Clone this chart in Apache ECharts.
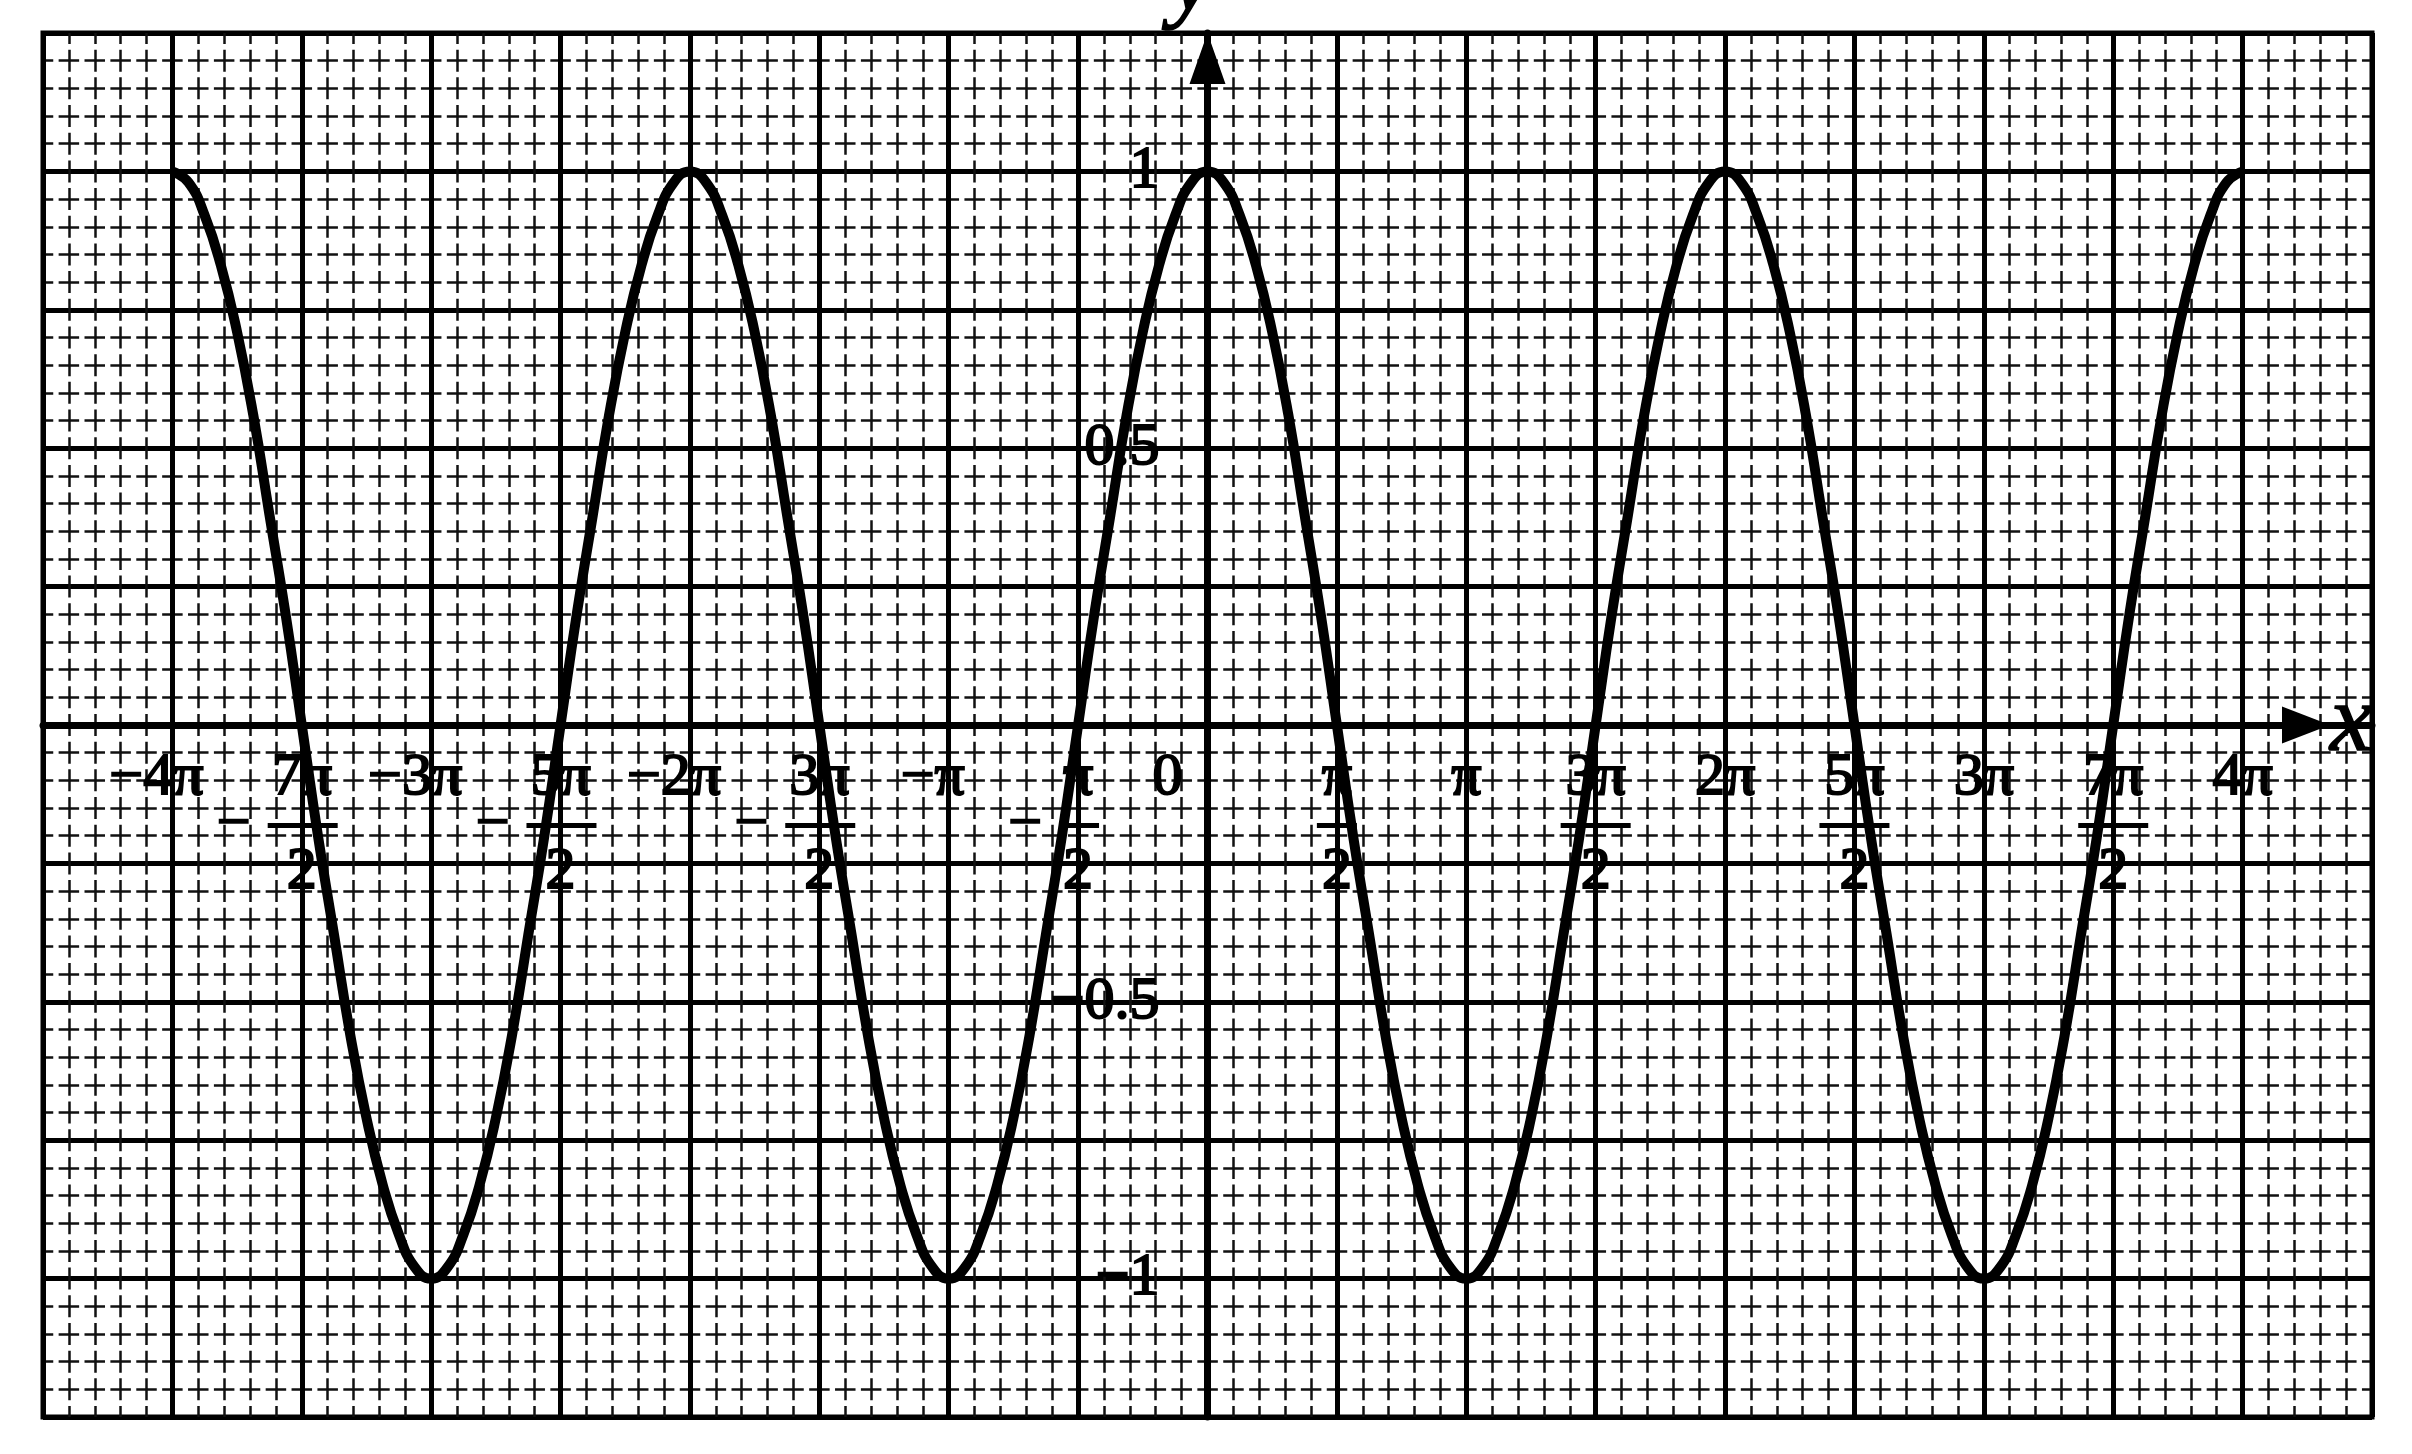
<!DOCTYPE html>
<html>
<head>
<meta charset="utf-8">
<script src="https://cdn.jsdelivr.net/npm/echarts/dist/echarts.min.js"></script>
<style>
html,body{margin:0;padding:0;background:#fff;}
#c{width:2412px;height:1454px;}
</style>
</head>
<body>
<div id="c"></div>
<script>
// x in units of π, read at every π/16
const xValues = [
  -4, -3.9375, -3.875, -3.8125, -3.75, -3.6875, -3.625, -3.5625,
  -3.5, -3.4375, -3.375, -3.3125, -3.25, -3.1875, -3.125, -3.0625,
  -3, -2.9375, -2.875, -2.8125, -2.75, -2.6875, -2.625, -2.5625,
  -2.5, -2.4375, -2.375, -2.3125, -2.25, -2.1875, -2.125, -2.0625,
  -2, -1.9375, -1.875, -1.8125, -1.75, -1.6875, -1.625, -1.5625,
  -1.5, -1.4375, -1.375, -1.3125, -1.25, -1.1875, -1.125, -1.0625,
  -1, -0.9375, -0.875, -0.8125, -0.75, -0.6875, -0.625, -0.5625,
  -0.5, -0.4375, -0.375, -0.3125, -0.25, -0.1875, -0.125, -0.0625,
  0, 0.0625, 0.125, 0.1875, 0.25, 0.3125, 0.375, 0.4375,
  0.5, 0.5625, 0.625, 0.6875, 0.75, 0.8125, 0.875, 0.9375,
  1, 1.0625, 1.125, 1.1875, 1.25, 1.3125, 1.375, 1.4375,
  1.5, 1.5625, 1.625, 1.6875, 1.75, 1.8125, 1.875, 1.9375,
  2, 2.0625, 2.125, 2.1875, 2.25, 2.3125, 2.375, 2.4375,
  2.5, 2.5625, 2.625, 2.6875, 2.75, 2.8125, 2.875, 2.9375,
  3, 3.0625, 3.125, 3.1875, 3.25, 3.3125, 3.375, 3.4375,
  3.5, 3.5625, 3.625, 3.6875, 3.75, 3.8125, 3.875, 3.9375,
  4
];
const yValues = [
  1, 0.98, 0.92, 0.83, 0.71, 0.56, 0.38, 0.2,
  0, -0.2, -0.38, -0.56, -0.71, -0.83, -0.92, -0.98,
  -1, -0.98, -0.92, -0.83, -0.71, -0.56, -0.38, -0.2,
  0, 0.2, 0.38, 0.56, 0.71, 0.83, 0.92, 0.98,
  1, 0.98, 0.92, 0.83, 0.71, 0.56, 0.38, 0.2,
  0, -0.2, -0.38, -0.56, -0.71, -0.83, -0.92, -0.98,
  -1, -0.98, -0.92, -0.83, -0.71, -0.56, -0.38, -0.2,
  0, 0.2, 0.38, 0.56, 0.71, 0.83, 0.92, 0.98,
  1, 0.98, 0.92, 0.83, 0.71, 0.56, 0.38, 0.2,
  0, -0.2, -0.38, -0.56, -0.71, -0.83, -0.92, -0.98,
  -1, -0.98, -0.92, -0.83, -0.71, -0.56, -0.38, -0.2,
  0, 0.2, 0.38, 0.56, 0.71, 0.83, 0.92, 0.98,
  1, 0.98, 0.92, 0.83, 0.71, 0.56, 0.38, 0.2,
  0, -0.2, -0.38, -0.56, -0.71, -0.83, -0.92, -0.98,
  -1, -0.98, -0.92, -0.83, -0.71, -0.56, -0.38, -0.2,
  0, 0.2, 0.38, 0.56, 0.71, 0.83, 0.92, 0.98,
  1
];
const xTickValues = [-4, -3.5, -3, -2.5, -2, -1.5, -1, -0.5, 0, 0.5, 1, 1.5, 2, 2.5, 3, 3.5, 4];
const xTickLabels = ['−4π', '−7π/2', '−3π', '−5π/2', '−2π', '−3π/2', '−π', '−π/2', '0',
                     'π/2', 'π', '3π/2', '2π', '5π/2', '3π', '7π/2', '4π'];
const yTickValues = [1, 0.5, -0.5, -1];
const yTickLabels = ['1', '0.5', '−0.5', '−1'];

const X_MIN = -4.5, X_MAX = 4.5, Y_MIN = -1.25, Y_MAX = 1.25;
const GRID = { left: 43, top: 33, width: 2329, height: 1384 };
// move axes to the zero lines of the other axis
const xAxisOffset = -GRID.height * (0 - Y_MIN) / (Y_MAX - Y_MIN);
const yAxisOffset = -GRID.width * (0 - X_MIN) / (X_MAX - X_MIN);

const FONT = 'Liberation Serif';
const base = { fontFamily: FONT, fontSize: 60, color: '#000', textBorderColor: '#000', textBorderWidth: 2, lineHeight: 47 };

function fmtX(v) {
  const i = xTickValues.findIndex(t => Math.abs(t - v) < 1e-9);
  if (i < 0) return '';
  const s = xTickLabels[i];
  if (s === '0') return '{zero|0}';
  const neg = s.charAt(0) === '−';
  const body = neg ? s.slice(1) : s;
  if (body.indexOf('/') >= 0) {
    const parts = body.split('/');
    const num = parts[0], den = parts[1];
    const bar = num.length > 1 ? 'barL' : 'barS';
    const mid = neg ? '{fm|−}{' + bar + '| }{fp| }' : '{' + bar + '| }';
    return '{t|' + num + '}\n' + mid + '\n{t|' + den + '}';
  }
  return neg ? '{im|−}{t|' + body + '}{ip| }' : '{t|' + body + '}';
}
function fmtY(v) {
  const i = yTickValues.findIndex(t => Math.abs(t - v) < 1e-9);
  return i < 0 ? '' : yTickLabels[i];
}

const chart = echarts.init(document.getElementById('c'), null, { renderer: 'canvas' });
chart.setOption({
  animation: false,
  backgroundColor: '#fff',
  grid: {
    left: GRID.left, top: GRID.top, width: GRID.width, height: GRID.height,
    containLabel: false, outerBoundsMode: 'none',
    show: true, borderWidth: 5, borderColor: '#000', backgroundColor: 'transparent'
  },
  xAxis: {
    type: 'value',
    position: 'bottom',
    offset: xAxisOffset,
    min: X_MIN, max: X_MAX, interval: 0.5,
    name: 'x',
    nameLocation: 'end',
    nameGap: -42,
    nameTextStyle: { fontFamily: FONT, fontStyle: 'italic', fontSize: 96, color: '#000', align: 'left', verticalAlign: 'middle', padding: [0, 0, 26, 0], textBorderColor: '#000', textBorderWidth: 1.5 },
    axisLine: {
      show: true, onZero: false,
      symbol: ['none', 'triangle'], symbolSize: [37, 48], symbolOffset: [0, -66],
      lineStyle: { color: '#000', width: 7 }
    },
    axisTick: { show: false },
    axisLabel: {
      show: true, margin: 30, formatter: fmtX,
      fontFamily: FONT, fontSize: 60, color: '#000',
      rich: {
        t: base,
        zero: Object.assign({}, base, { padding: [0, 80, 0, 0] }),
        im: base,
        ip: Object.assign({}, base, { width: 32 }),
        fm: Object.assign({}, base, { padding: [0, 17, 0, 0] }),
        fp: Object.assign({}, base, { width: 49 }),
        barS: { width: 40, height: 5, lineHeight: 47, backgroundColor: '#000' },
        barL: { width: 70, height: 5, lineHeight: 47, backgroundColor: '#000' }
      }
    },
    splitLine: { show: true, lineStyle: { color: '#000', width: 5 } },
    minorTick: { show: false, splitNumber: 5 },
    minorSplitLine: { show: true, lineStyle: { color: '#111', width: 2.5, type: [22, 5.68], dashOffset: 11 } }
  },
  yAxis: {
    type: 'value',
    position: 'left',
    offset: yAxisOffset,
    min: Y_MIN, max: Y_MAX, interval: 0.25,
    name: 'y',
    nameLocation: 'end',
    nameGap: 0,
    nameTextStyle: { fontFamily: FONT, fontStyle: 'italic', fontSize: 96, lineHeight: 96, color: '#000', align: 'center', verticalAlign: 'bottom', padding: [0, 32, 0, 0], textBorderColor: '#000', textBorderWidth: 1.5 },
    axisLine: {
      show: true, onZero: false,
      symbol: ['none', 'triangle'], symbolSize: [36, 51], symbolOffset: [0, -25.5],
      lineStyle: { color: '#000', width: 7 }
    },
    axisTick: { show: false },
    axisLabel: {
      show: true, margin: 48, formatter: fmtY,
      fontFamily: FONT, fontSize: 60, color: '#000',
      textBorderColor: '#000', textBorderWidth: 2
    },
    splitLine: { show: true, lineStyle: { color: '#000', width: 5 } },
    minorTick: { show: false, splitNumber: 5 },
    minorSplitLine: { show: true, lineStyle: { color: '#111', width: 2.5, type: [20.5, 5.38], dashOffset: 10.25 } }
  },
  series: [{
    type: 'line',
    data: xValues.map((x, i) => [x, yValues[i]]),
    smooth: true,
    showSymbol: false,
    lineStyle: { color: '#000', width: 10 },
    z: 5
  }]
});
</script>
</body>
</html>
